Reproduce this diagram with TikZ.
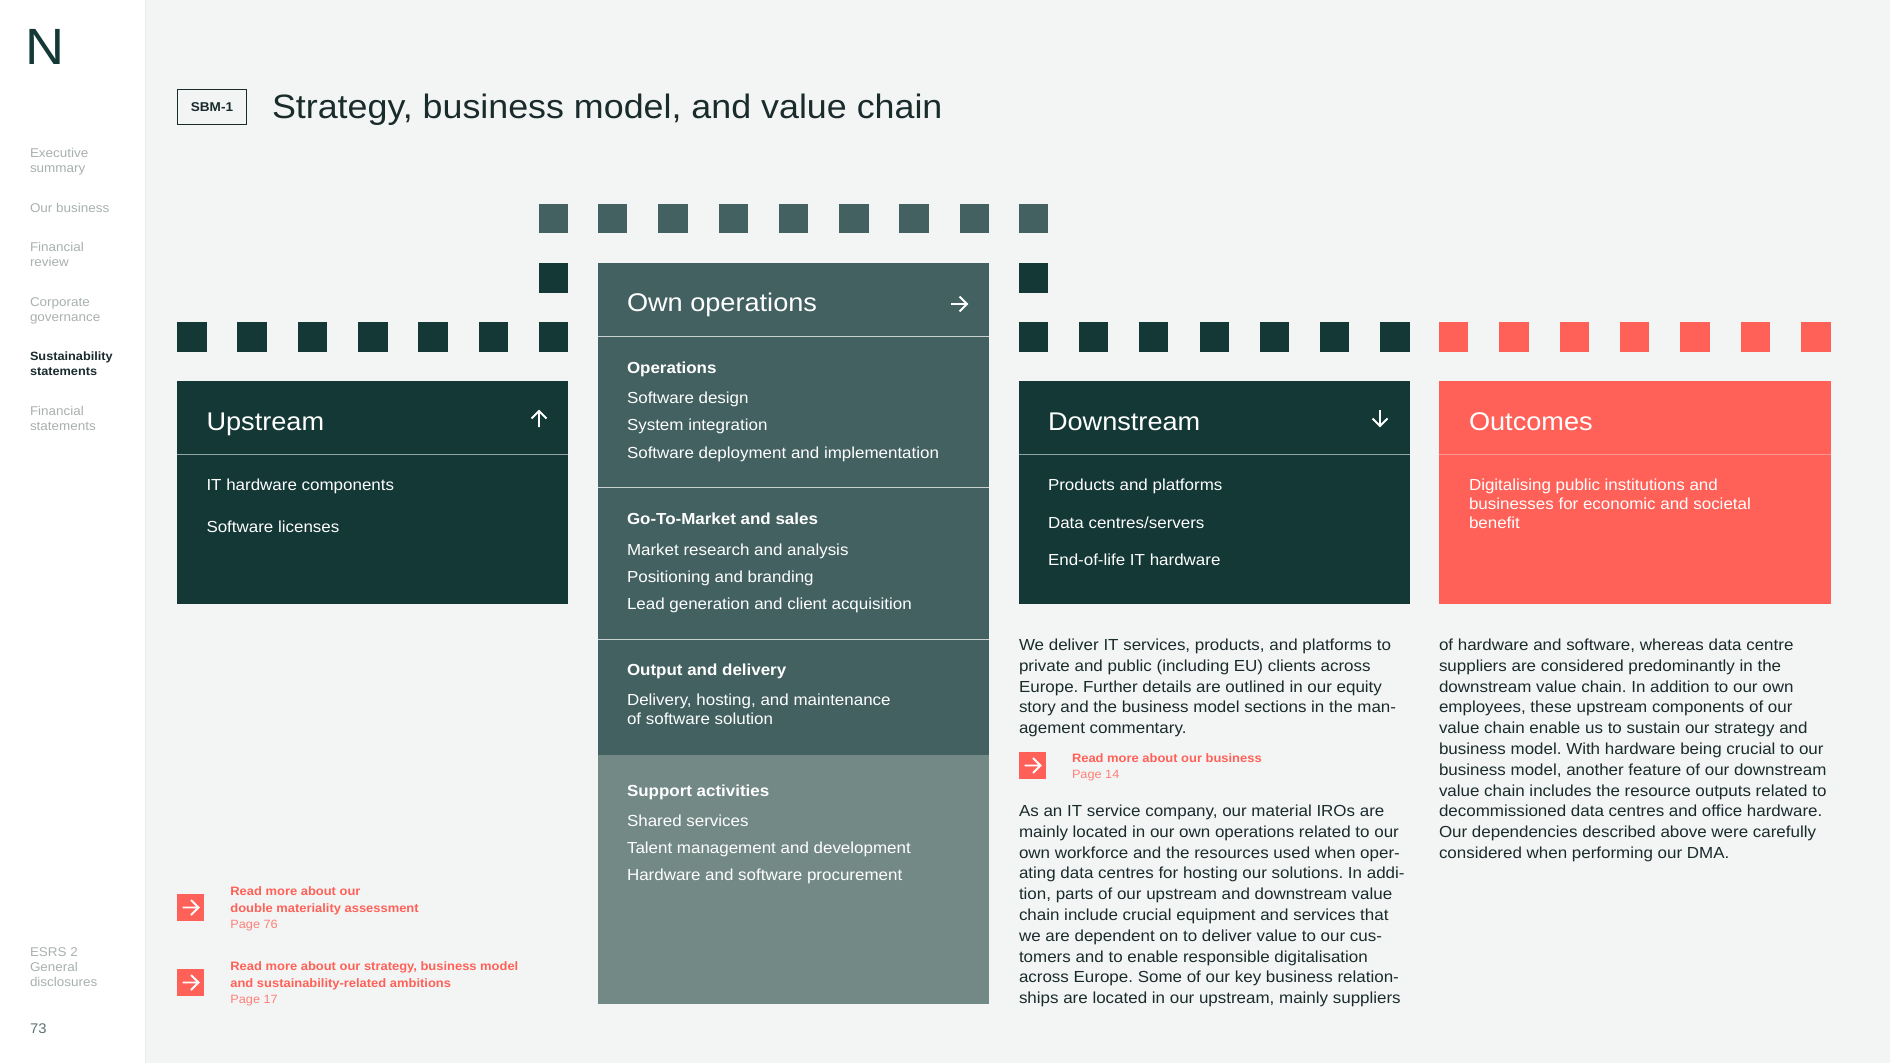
\documentclass[tikz,border=0pt]{standalone}
\usepackage{fontspec}
\setmainfont[FakeStretch=1.06]{Liberation Sans}
\frenchspacing
\definecolor{pagebg}{HTML}{F3F5F4}
\definecolor{dark}{HTML}{133835}
\definecolor{mid}{HTML}{436160}
\definecolor{soft}{HTML}{738985}
\definecolor{coral}{HTML}{FF6158}
\definecolor{coralsoft}{HTML}{FF8079}
\definecolor{ink}{HTML}{1A2B2C}
\definecolor{navgrey}{HTML}{A9B1AF}
\definecolor{numgrey}{HTML}{5E7270}
\definecolor{rulelight}{HTML}{C9D2D0}
\newcommand{\fs}[2]{\fontsize{#1}{#2}\selectfont}
\newcommand{\tx}[5]{\node[txt,#4] (#1) at (#2,#3) {#5};}
\newcommand{\arrR}[2]{\draw[arrowline] (#1-8,#2)--(#1+8,#2) (#1+.5,#2-7.5)--(#1+8,#2)--(#1+.5,#2+7.5);}
\newcommand{\arrU}[2]{\draw[arrowline] (#1,#2+8)--(#1,#2-8) (#1-7.5,#2-.5)--(#1,#2-8)--(#1+7.5,#2-.5);}
\newcommand{\arrD}[2]{\draw[arrowline] (#1,#2-8)--(#1,#2+8) (#1-7.5,#2+.5)--(#1,#2+8)--(#1+7.5,#2+.5);}
\tikzset{
 txt/.style={anchor=base west,inner sep=0pt,outer sep=0pt,align=left},
 nav/.style={font=\fs{12.7}{15},text=navgrey},
 navon/.style={font=\fs{12}{15}\bfseries,text=ink},
 head/.style={font=\fs{25.6}{30},text=white},
 item/.style={font=\fs{16}{19},text=white},
 itemb/.style={font=\fs{16}{19}\bfseries,text=white},
 body/.style={font=\fs{16}{20.8},text=ink},
 linkb/.style={font=\fs{12.2}{17}\bfseries,text=coral},
 linkp/.style={font=\fs{12}{16},text=coralsoft},
 arrowline/.style={draw=white,line width=1.9pt,line cap=butt,line join=miter},
 hrule/.style={draw=rulelight,line width=1pt},
}
\begin{document}
\begin{tikzpicture}[x=1pt,y=-1pt]
\useasboundingbox (0,0) rectangle (1890,1063);
\fill[pagebg] (0,0) rectangle (1890,1063);
\fill[white] (0,0) rectangle (145,1063);
\draw[draw=black!8,line width=.8pt] (145.4,0)--(145.4,1063);
% sidebar
\tx{logo}{25}{64}{font=\fs{51}{51},text=dark}{N}
\tx{n1}{30}{172.3}{nav}{Executive\\summary}
\tx{n2}{30}{212.3}{nav}{Our business}
\tx{n3}{30}{266.3}{nav}{Financial\\review}
\tx{n4}{30}{321.3}{nav}{Corporate\\governance}
\tx{n5}{30}{375.3}{navon}{Sustainability\\statements}
\tx{n6}{30}{430.3}{nav}{Financial\\statements}
\tx{n7}{30}{986}{nav}{ESRS 2\\General\\disclosures}
\tx{pg}{30}{1033}{font=\fs{14}{16},text=numgrey}{73}
% header
\node[draw=ink,line width=1pt,minimum width=69pt,minimum height=35pt,inner sep=0pt,font=\fs{12.8}{16}\bfseries,text=ink] (tag) at (212,107) {SBM-1\hspace{1.5pt}};
\tx{title}{272}{118}{font=\fs{33.8}{38},text=ink}{Strategy, business model, and value chain}
% squares
\foreach \a/\b in {539/568,598/627,658/688,719/748,779/808,839/869,899/929,960/989,1019/1048}
  {\fill[mid] (\a,204) rectangle (\b,233);}
\foreach \a/\b in {539/568,1019/1048}
  {\fill[dark] (\a,263) rectangle (\b,293);}
\foreach \a/\b in {177/207,237/267,298/327,358/388,418/448,479/508,539/568,1019/1048,1079/1108,1139/1168,1200/1229,1260/1289,1320/1349,1380/1410}
  {\fill[dark] (\a,322) rectangle (\b,352);}
\foreach \a/\b in {1439/1468,1499/1529,1560/1589,1620/1649,1680/1710,1741/1770,1801/1831}
  {\fill[coral] (\a,322) rectangle (\b,352);}
% boxes
\fill[dark] (177,381) rectangle (568,604);
\fill[dark] (1019,381) rectangle (1410,604);
\fill[coral] (1439,381) rectangle (1831,604);
\fill[mid] (598,263) rectangle (989,754.5);
\fill[soft] (598,754.5) rectangle (989,1004);
\draw[hrule,draw=white!55!dark] (177,454.3)--(568,454.3);
\draw[hrule,draw=white!55!dark] (1019,454.3)--(1410,454.3);
\draw[hrule,draw=white!35!coral] (1439,454.3)--(1831,454.3);
\draw[hrule] (598,336.3)--(989,336.3);
\draw[hrule] (598,487.3)--(989,487.3);
\draw[hrule] (598,639.5)--(989,639.5);
% upstream
\tx{up}{206.5}{430}{head}{Upstream}
\arrU{539}{419}
\tx{up1}{206.5}{490}{item}{IT hardware components}
\tx{up2}{206.5}{532}{item}{Software licenses}
% own
\tx{own}{627}{311.7}{head}{Own operations}
\arrR{959}{304}
\tx{o1}{627}{373}{itemb}{Operations}
\tx{o2}{627}{403.3}{item}{Software design}
\tx{o3}{627}{430.3}{item}{System integration}
\tx{o4}{627}{458.3}{item}{Software deployment and implementation}
\tx{g1}{627}{524}{itemb}{Go-To-Market and sales}
\tx{g2}{627}{555.3}{item}{Market research and analysis}
\tx{g3}{627}{582.3}{item}{Positioning and branding}
\tx{g4}{627}{609.3}{item}{Lead generation and client acquisition}
\tx{d1}{627}{675}{itemb}{Output and delivery}
\tx{d2}{627}{724.5}{item}{Delivery, hosting, and maintenance\\of software solution}
\tx{s1}{627}{796}{itemb}{Support activities}
\tx{s2}{627}{826.5}{item}{Shared services}
\tx{s3}{627}{853.5}{item}{Talent management and development}
\tx{s4}{627}{880.5}{item}{Hardware and software procurement}
% downstream
\tx{dn}{1048}{430}{head}{Downstream}
\arrD{1380}{418}
\tx{dn1}{1048}{490}{item}{Products and platforms}
\tx{dn2}{1048}{528}{item}{Data centres/servers}
\tx{dn3}{1048}{565.5}{item}{End-of-life IT hardware}
% outcomes
\tx{oc}{1469}{430}{head}{Outcomes}
\tx{oc1}{1469}{528}{item}{Digitalising public institutions and\\businesses for economic and societal\\benefit}
% body
\tx{b1}{1019}{733.6}{body}{We deliver IT services, products, and platforms to\\private and public (including EU) clients across\\Europe. Further details are outlined in our equity\\story and the business model sections in the man-\\agement commentary.}
\fill[coral] (1019,752) rectangle (1046,779);
\arrR{1032.5}{765.5}
\tx{l3}{1072}{762.3}{linkb}{Read more about our business}
\tx{l3p}{1072}{778.3}{linkp}{Page 14}
\tx{b2}{1019}{1003.6}{body}{As an IT service company, our material IROs are\\mainly located in our own operations related to our\\own workforce and the resources used when oper-\\ating data centres for hosting our solutions. In addi-\\tion, parts of our upstream and downstream value\\chain include crucial equipment and services that\\we are dependent on to deliver value to our cus-\\tomers and to enable responsible digitalisation\\across Europe. Some of our key business relation-\\ships are located in our upstream, mainly suppliers}
\tx{b3}{1439}{858.4}{body}{of hardware and software, whereas data centre\\suppliers are considered predominantly in the\\downstream value chain. In addition to our own\\employees, these upstream components of our\\value chain enable us to sustain our strategy and\\business model. With hardware being crucial to our\\business model, another feature of our downstream\\value chain includes the resource outputs related to\\decommissioned data centres and office hardware.\\Our dependencies described above were carefully\\considered when performing our DMA.}
% links
\fill[coral] (177,894) rectangle (204,921);
\arrR{190.5}{907.5}
\tx{l1}{230.4}{912.3}{linkb}{Read more about our\\double materiality assessment}
\tx{l1p}{230.4}{928.3}{linkp}{Page 76}
\fill[coral] (177,969) rectangle (204,996);
\arrR{190.5}{982.5}
\tx{l2}{230.4}{987.3}{linkb}{Read more about our strategy, business model\\and sustainability-related ambitions}
\tx{l2p}{230.4}{1003.3}{linkp}{Page 17}
\end{tikzpicture}
\end{document}
